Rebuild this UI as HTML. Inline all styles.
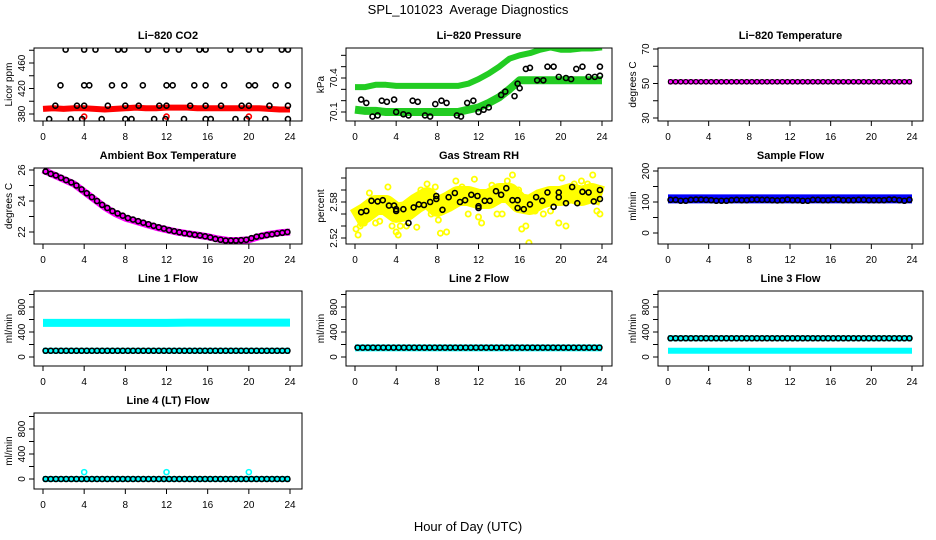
<!DOCTYPE html>
<html><head><meta charset="utf-8">
<style>
html,body{margin:0;padding:0;background:#fff;}
svg{display:block;font-family:"Liberation Sans",sans-serif;}
</style></head>
<body>
<svg id="chart" width="936" height="540" viewBox="0 0 936 540" xmlns="http://www.w3.org/2000/svg">
<text x="468" y="14" text-anchor="middle" font-size="13">SPL_101023&#160; Average Diagnostics</text>
<text x="468" y="531" text-anchor="middle" font-size="13">Hour of Day (UTC)</text>
</svg>
<script>
const xTicks = [0,4,8,12,16,20,24];
const hoursHalf = [0.25,0.75,1.25,1.75,2.25,2.75,3.25,3.75,4.25,4.75,5.25,5.75,6.25,6.75,7.25,7.75,8.25,8.75,9.25,9.75,10.25,10.75,11.25,11.75,12.25,12.75,13.25,13.75,14.25,14.75,15.25,15.75,16.25,16.75,17.25,17.75,18.25,18.75,19.25,19.75,20.25,20.75,21.25,21.75,22.25,22.75,23.25,23.75];
const hoursBand = [0,1,2,3,4,5,6,7,8,9,10,11,12,13,14,15,16,17,18,19,20,21,22,23,24];

// CO2
const co2Band = [388,389,388,389,389,388,387,388,389,390,389,389,390,390,390,389,389,389,389,389,389,389,388,387,387];
const co2BlackHours = [2.2,4,5.1,7.3,7.9,10.2,12,13.2,15.2,15.8,18.2,20,21.1,23.2,23.8, 1.7,4,4.5,6.7,7.9,9.7,12,12.6,14.7,15.8,17.6,20,20.6,22.6,23.8, 1.2,3.3,4,6.3,8,9.3,11.3,12,14.3,15.8,17.3,19.3,20,22,23.8, 0.6,2.7,3.8,5.7,8,8.6,10.8,11.9,13.7,15.8,16.3,18.7,19.8,21.6,23.8];
const co2BlackValues = [481,481,481,481,481,481,481,481,481,481,481,481,481,481,481, 425,425,425,425,425,425,425,425,425,425,425,425,425,425,425, 393,393,393,393,393,393,393,393,393,393,393,393,393,393,393, 372,372,372,372,372,372,372,372,372,372,372,372,372,372,372];
const co2RedHours = [4,12,20];
const co2RedValues = [376,376,376];

// Pressure
const presLowBand = [70.12,70.11,70.11,70.10,70.10,70.10,70.10,70.10,70.10,70.10,70.10,70.12,70.14,70.18,70.23,70.30,70.38,70.38,70.38,70.38,70.38,70.38,70.38,70.38,70.38];
const presHighBand = [70.32,70.32,70.34,70.34,70.33,70.33,70.33,70.33,70.33,70.33,70.33,70.35,70.39,70.44,70.50,70.57,70.60,70.62,70.65,70.67,70.65,70.65,70.66,70.66,70.67];
const presBlackHours = [0.6,1.1,1.7,2.2,2.6,3.1,3.8,4,4.7,5.2,5.6,6.1,6.8,7.3,7.8,8.4,8.9,9.9,10.3,10.9,11.5,12,12.5,13,14.2,14.6,15.5,15.8,16,16.6,17,17.7,18.3,18.7,19.3,19.8,20.5,21,21.5,22.1,22.7,23.3,23.8,23.8];
const presBlackValues = [70.21,70.18,70.06,70.07,70.20,70.19,70.21,70.10,70.08,70.07,70.20,70.19,70.07,70.06,70.17,70.20,70.18,70.07,70.06,70.18,70.20,70.10,70.12,70.14,70.25,70.28,70.24,70.35,70.31,70.48,70.49,70.38,70.38,70.50,70.50,70.41,70.40,70.39,70.48,70.50,70.41,70.41,70.50,70.42];

// Li-820 temperature
const tempBand = [51,51,51,51,51,51,51,51,51,51,51,51,51,51,51,51,51,51,51,51,51,51,51,51,51];
const tempBlack = [51,51,51,51,51,51,51,51,51,51,51,51,51,51,51,51,51,51,51,51,51,51,51,51,51,51,51,51,51,51,51,51,51,51,51,51,51,51,51,51,51,51,51,51,51,51,51,51];

// Ambient
const ambBand = [26.0,25.7,25.4,25.1,24.6,24.1,23.6,23.2,22.9,22.7,22.5,22.3,22.15,22.0,21.9,21.8,21.7,21.55,21.45,21.45,21.5,21.7,21.85,21.95,22.0];
const ambBlack = [25.9,25.75,25.65,25.5,25.35,25.2,25.0,24.75,24.5,24.25,24.0,23.75,23.55,23.35,23.2,23.05,22.9,22.8,22.7,22.6,22.5,22.4,22.3,22.22,22.12,22.05,21.98,21.92,21.87,21.82,21.78,21.72,21.65,21.55,21.5,21.45,21.45,21.45,21.47,21.5,21.6,21.7,21.75,21.8,21.85,21.9,21.95,22.0];

// RH
const rhBand = [2.552,2.562,2.575,2.575,2.562,2.565,2.578,2.588,2.572,2.58,2.59,2.59,2.585,2.585,2.595,2.595,2.578,2.575,2.585,2.59,2.59,2.595,2.59,2.595,2.59];
const rhYellowHours = [0.1,0.3,0.5,0.9,1.4,2.0,2.4,3.2,3.6,4.0,4.2,4.4,5.0,5.3,6.0,6.4,7.0,7.4,7.8,8.1,8.3,8.9,9.3,9.8,10.4,11.0,11.6,12.0,12.3,13.3,13.8,14.3,14.8,15.3,15.9,16.2,16.6,16.9,17.5,18.3,19.0,19.8,20.1,20.5,21.3,22.0,22.6,23.1,23.5,23.8];
const rhYellowValues = [2.535,2.525,2.54,2.545,2.595,2.545,2.548,2.605,2.54,2.53,2.525,2.54,2.54,2.565,2.538,2.6,2.61,2.56,2.605,2.55,2.528,2.53,2.595,2.615,2.605,2.56,2.618,2.555,2.545,2.608,2.56,2.56,2.615,2.625,2.6,2.535,2.54,2.512,2.565,2.56,2.565,2.545,2.62,2.54,2.61,2.615,2.61,2.625,2.565,2.56];
const rhBlackHours = [0.6,1.1,1.6,2.2,2.7,3.3,3.8,4,4,4.7,5.2,5.7,6.2,6.7,7.3,7.9,7.9,8.5,9.1,9.7,10.2,10.7,11.3,11.9,12,12,12.6,13.1,13.7,14.2,14.7,15.3,15.8,15.8,16.4,17,17.6,18.2,18.7,19.3,19.8,19.8,20.5,21.1,21.6,22.1,22.7,23.2,23.8,23.8];
const rhBlackValues = [2.563,2.565,2.582,2.581,2.583,2.574,2.574,2.565,2.568,2.568,2.545,2.571,2.576,2.575,2.58,2.59,2.585,2.567,2.588,2.595,2.58,2.583,2.592,2.59,2.57,2.573,2.582,2.582,2.598,2.592,2.603,2.583,2.583,2.57,2.568,2.576,2.588,2.582,2.596,2.572,2.588,2.596,2.578,2.605,2.578,2.597,2.596,2.581,2.6,2.585];

// Sample flow
const sampleBand = [110,110,110,110,110,110,110,110,110,110,110,110,110,110,110,110,110,110,110,110,110,110,110,110,110];
const sampleBlack = [107,107,104,104,107,108,108,107,106,104,104,104,106,107,106,106,108,108,107,107,106,105,106,108,106,106,104,104,107,107,106,106,108,108,106,106,106,107,107,106,106,106,106,108,108,106,104,107];

// Line flows
const line1HighBand = [545,545,545,545,545,545,545,545,545,545,545,545,545,548,550,550,550,550,550,550,550,550,550,550,550];
const line1LowBand = [100,100,100,100,100,100,100,100,100,100,100,100,100,100,100,100,100,100,100,100,100,100,100,100,100];
const line1Black = [100,100,100,100,100,100,100,100,100,100,100,100,100,100,100,100,100,100,100,100,100,100,100,100,100,100,100,100,100,100,100,100,100,100,100,100,100,100,100,100,100,100,100,100,100,100,100,100];
const line2Band = [145,145,145,145,145,145,145,145,145,145,145,145,145,145,145,145,145,145,145,145,145,145,145,145,145];
const line2Black = [150,150,150,150,150,150,150,150,150,150,150,150,150,150,150,150,150,150,150,150,150,150,150,150,150,150,150,150,150,150,150,150,150,150,150,150,150,150,150,150,150,150,150,150,150,150,150,150];
const line3HighBand = [300,300,300,300,300,300,300,300,300,300,300,300,300,300,300,300,300,300,300,300,300,300,300,300,300];
const line3LowBand = [100,100,100,100,100,100,100,100,100,100,100,100,100,100,100,100,100,100,100,100,100,100,100,100,100];
const line3Black = [300,300,300,300,300,300,300,300,300,300,300,300,300,300,300,300,300,300,300,300,300,300,300,300,300,300,300,300,300,300,300,300,300,300,300,300,300,300,300,300,300,300,300,300,300,300,300,300];
const line4Band = [0,0,0,0,0,0,0,0,0,0,0,0,0,0,0,0,0,0,0,0,0,0,0,0,0];
const line4Black = [0,0,0,0,0,0,0,0,0,0,0,0,0,0,0,0,0,0,0,0,0,0,0,0,0,0,0,0,0,0,0,0,0,0,0,0,0,0,0,0,0,0,0,0,0,0,0,0];
const line4OutHours = [4,12,20];
const line4OutValues = [110,110,110];

const NS = "http://www.w3.org/2000/svg";
const svg = document.getElementById("chart");
const colBox = [[34,302,43,290],[346,612,355,602],[658,923,668,912]];
const rowBox = [[48,121],[168,244],[291,366],[413,489]];

function mk(tag, attrs, parent){
  const e = document.createElementNS(NS, tag);
  for (const k in attrs) e.setAttribute(k, attrs[k]);
  (parent||svg).appendChild(e);
  return e;
}

function panel(id, col, row, title, ylab, v1, y1, v2, y2, ticks, labels){
  const [L,R,x0,x24] = colBox[col];
  const [T,B] = rowBox[row];
  const g = mk("g", {});
  
  
  const sx = h => x0 + (x24 - x0) * h / 24;
  const sy = v => y1 + (y2 - y1) * (v - v1) / (v2 - v1);
  const clipId = "clip-" + id;
  const cp = mk("clipPath", {id: clipId}, g);
  mk("rect", {x: L, y: T, width: R - L, height: B - T}, cp);
  const plot = mk("g", {"clip-path": "url(#" + clipId + ")"}, g);
  const box = mk("rect", {x: L, y: T, width: R - L, height: B - T, fill: "none", stroke: "#000", "stroke-width": 1}, g);
  
  
  const t = mk("text", {x: (L + R) / 2, y: T - 9, "text-anchor": "middle", "font-size": 11, "font-weight": "bold"}, g);
  t.textContent = title;
  
  
  const xa = mk("g", {}, g);
  
  
  mk("line", {x1: sx(0), x2: sx(24), y1: B, y2: B, stroke: "#000"}, xa);
  xTicks.forEach(h => {
    mk("line", {x1: sx(h), x2: sx(h), y1: B, y2: B + 5, stroke: "#000"}, xa);
    const tl = mk("text", {x: sx(h), y: B + 19, "text-anchor": "middle", "font-size": 10}, xa);
    tl.textContent = h;
  });
  const ya = mk("g", {}, g);
  
  
  mk("line", {x1: L, x2: L, y1: sy(ticks[0]), y2: sy(ticks[ticks.length - 1]), stroke: "#000"}, ya);
  ticks.forEach(v => mk("line", {x1: L - 5, x2: L, y1: sy(v), y2: sy(v), stroke: "#000"}, ya));
  labels.forEach(v => {
    const tl = mk("text", {x: 0, y: 0, "text-anchor": "middle", "font-size": 10, transform: "translate(" + (L - 9) + "," + sy(v) + ") rotate(-90)"}, ya);
    tl.textContent = v;
  });
  const yl = mk("text", {x: 0, y: 0, "text-anchor": "middle", "font-size": 10, transform: "translate(" + (L - 22) + "," + ((T + B) / 2) + ") rotate(-90)"}, g);
  yl.textContent = ylab;
  
  
  return {plot, sx, sy};
}

function band(p, name, hours, vals, color, width){
  const pts = hours.map((h, i) => p.sx(h).toFixed(1) + "," + p.sy(vals[i]).toFixed(1)).join(" ");
  const pl = mk("polyline", {points: pts, fill: "none", stroke: color, "stroke-width": width, "stroke-linejoin": "round", "stroke-linecap": "butt"}, p.plot);
  
  
}

function dots(p, name, hours, vals, color, r, sw){
  const g = mk("g", {}, p.plot);
  
  
  hours.forEach((h, i) => {
    const c = mk("circle", {cx: p.sx(h), cy: p.sy(vals[i]), r: r || 2.5, fill: "none", stroke: color, "stroke-width": sw || 1.6}, g);
    
    
  });
}

let p = panel("co2", 0, 0, "Li\u2212820 CO2", "Licor ppm", 380, 114, 460, 63, [380,400,420,440,460,480], [380,420,460]);
band(p, "co2-red-band", hoursBand, co2Band, "#ff0000", 6);
dots(p, "co2-red-outliers", co2RedHours, co2RedValues, "#ff0000");
dots(p, "co2-black-points", co2BlackHours, co2BlackValues, "#000");

p = panel("pressure", 1, 0, "Li\u2212820 Pressure", "kPa", 70.1, 112, 70.4, 78, [70.1,70.2,70.3,70.4,70.5,70.6], [70.1,70.4]);
band(p, "pressure-low-band", hoursBand, presLowBand, "#22cc22", 8);
band(p, "pressure-high-band", hoursBand, presHighBand, "#22cc22", 6);
dots(p, "pressure-black-points", presBlackHours, presBlackValues, "#000");

p = panel("li820-temp", 2, 0, "Li\u2212820 Temperature", "degrees C", 30, 118, 70, 49, [30,40,50,60,70], [30,50,70]);
band(p, "li820-temp-band", hoursBand, tempBand, "#ff00ff", 5);
dots(p, "li820-temp-black-points", hoursHalf, tempBlack, "#000", 2.2, 1.2);

p = panel("ambient", 0, 1, "Ambient Box Temperature", "degrees C", 26, 170, 22, 232, [22,23,24,25,26], [22,24,26]);
band(p, "ambient-band", hoursBand, ambBand, "#ff00ff", 7);
dots(p, "ambient-black-points", hoursHalf, ambBlack, "#000");

p = panel("rh", 1, 1, "Gas Stream RH", "percent", 2.58, 202, 2.52, 238, [2.52,2.54,2.56,2.58,2.60,2.62], [2.52,2.58]);
band(p, "rh-yellow-band", hoursBand, rhBand, "#ffff00", 20);
dots(p, "rh-yellow-points", rhYellowHours, rhYellowValues, "#ffff00", 2.6, 1.8);
dots(p, "rh-black-points", rhBlackHours, rhBlackValues, "#000");

p = panel("sample-flow", 2, 1, "Sample Flow", "ml/min", 0, 233, 200, 171, [0,50,100,150,200], [0,100,200]);
band(p, "sample-flow-band", hoursBand, sampleBand, "#0000ff", 9);
dots(p, "sample-flow-black-points", hoursHalf, sampleBlack, "#000");

const flowTicks = [0,200,400,600,800,1000], flowLabels = [0,400,800];
p = panel("line1", 0, 2, "Line 1 Flow", "ml/min", 0, 357, 800, 307, flowTicks, flowLabels);
band(p, "line1-high-band", hoursBand, line1HighBand, "#00ffff", 8);
band(p, "line1-low-band", hoursBand, line1LowBand, "#00ffff", 6);
dots(p, "line1-black-points", hoursHalf, line1Black, "#000");

p = panel("line2", 1, 2, "Line 2 Flow", "ml/min", 0, 357, 800, 307, flowTicks, flowLabels);
band(p, "line2-band", hoursBand, line2Band, "#00ffff", 7);
dots(p, "line2-black-points", hoursHalf, line2Black, "#000");

p = panel("line3", 2, 2, "Line 3 Flow", "ml/min", 0, 357, 800, 307, flowTicks, flowLabels);
band(p, "line3-high-band", hoursBand, line3HighBand, "#00ffff", 6);
band(p, "line3-low-band", hoursBand, line3LowBand, "#00ffff", 6);
dots(p, "line3-black-points", hoursHalf, line3Black, "#000");

p = panel("line4", 0, 3, "Line 4 (LT) Flow", "ml/min", 0, 479, 800, 429, flowTicks, flowLabels);
band(p, "line4-band", hoursBand, line4Band, "#00ffff", 6);
dots(p, "line4-outliers", line4OutHours, line4OutValues, "#00ffff");
dots(p, "line4-black-points", hoursHalf, line4Black, "#000");
</script>
</body></html>
